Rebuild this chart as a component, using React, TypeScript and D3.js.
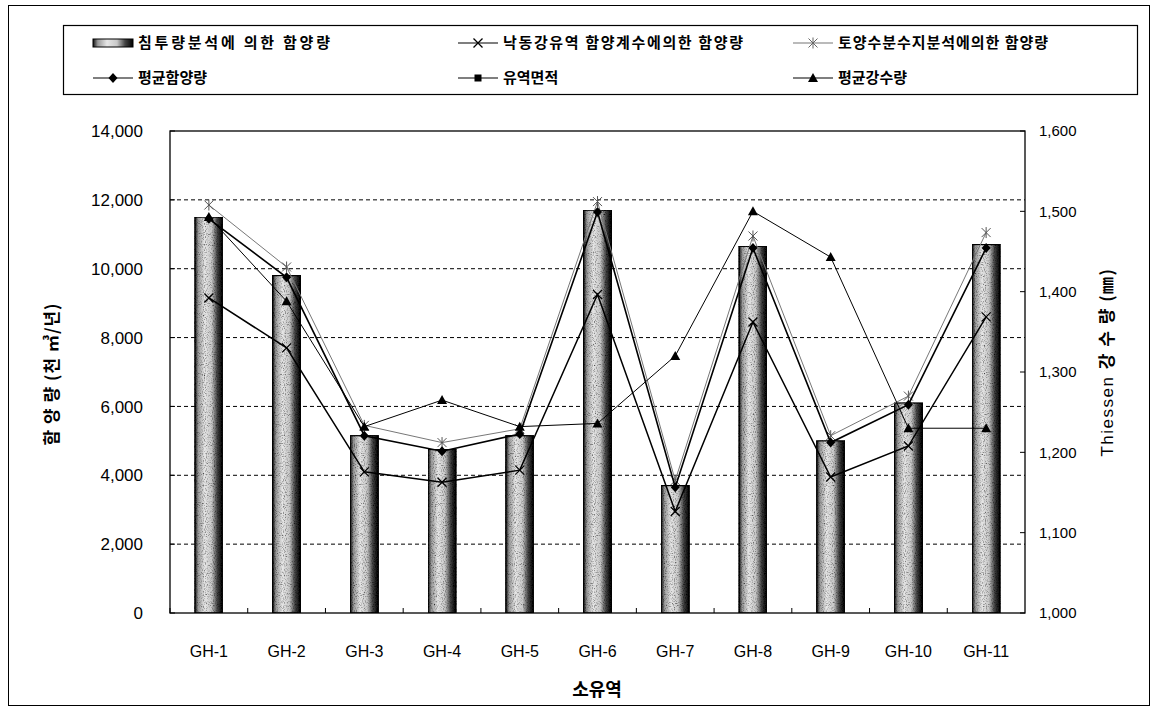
import React from "react";
import * as d3 from "d3";

const categories = ["GH-1", "GH-2", "GH-3", "GH-4", "GH-5", "GH-6", "GH-7", "GH-8", "GH-9", "GH-10", "GH-11"];
// 침투량분석에 의한 함양량 (bars, 천㎥/년)
const infiltration = [11500, 9800, 5150, 4750, 5150, 11700, 3700, 10650, 5000, 6100, 10700];
// 낙동강유역 함양계수에의한 함양량
const nakdong = [9150, 7700, 4100, 3800, 4150, 9250, 2950, 8450, 3950, 4850, 8600];
// 토양수분수지분석에의한 함양량
const soil = [11850, 10050, 5450, 4950, 5350, 11950, 3850, 10950, 5150, 6300, 11050];
// 평균함양량
const meanRecharge = [11450, 9750, 5150, 4700, 5200, 11650, 3650, 10600, 4950, 6050, 10600];
// 평균강수량 (right axis, mm)
const rainfall = [1493, 1388, 1232, 1265, 1232, 1236, 1320, 1500, 1443, 1230, 1230];

const leftTicks = [0, 2000, 4000, 6000, 8000, 10000, 12000, 14000];
const rightTicks = [1000, 1100, 1200, 1300, 1400, 1500, 1600];

const W = 1155;
const H = 711;
const P = { l: 170, r: 1025, t: 131, b: 613 };

const KFONT = "'Noto Sans CJK KR', 'Noto Sans', sans-serif";
const NFONT = "'Liberation Sans', Arial, sans-serif";

type MarkerType = "x" | "star" | "diamond" | "square" | "triangle";

function Marker({ type, x, y, color = "#000" }: { type: MarkerType; x: number; y: number; color?: string }) {
  const s = 4.5;
  if (type === "x")
    return (
      <path d={`M${x - s},${y - s}L${x + s},${y + s}M${x - s},${y + s}L${x + s},${y - s}`} stroke={color} strokeWidth={1.3} fill="none" />
    );
  if (type === "star")
    return (
      <path
        d={`M${x - s},${y - s}L${x + s},${y + s}M${x - s},${y + s}L${x + s},${y - s}M${x},${y - s - 1}L${x},${y + s + 1}`}
        stroke={color}
        strokeWidth={1}
        fill="none"
      />
    );
  if (type === "diamond")
    return <path d={`M${x},${y - 5}L${x + 4.5},${y}L${x},${y + 5}L${x - 4.5},${y}Z`} fill={color} />;
  if (type === "square") return <rect x={x - 3.5} y={y - 3.5} width={7} height={7} fill={color} />;
  return <path d={`M${x},${y - 5}L${x + 5},${y + 4}L${x - 5},${y + 4}Z`} fill={color} />;
}

export default function App() {
  const x = d3.scaleBand<string>().domain(categories).range([P.l, P.r]).padding(0);
  const yL = d3.scaleLinear().domain([0, 14000]).range([P.b, P.t]);
  const yR = d3.scaleLinear().domain([1000, 1600]).range([P.b, P.t]);
  const fmt = d3.format(",");
  const bw = x.bandwidth() * 0.36;
  const cx = (c: string) => (x(c) as number) + x.bandwidth() / 2;

  const lineL = d3
    .line<number>()
    .x((_, i) => cx(categories[i]))
    .y((d) => yL(d));
  const lineR = d3
    .line<number>()
    .x((_, i) => cx(categories[i]))
    .y((d) => yR(d));

  const series: { data: number[]; type: MarkerType; color: string; width: number; right?: boolean }[] = [
    { data: nakdong, type: "x", color: "#000", width: 1.5 },
    { data: soil, type: "star", color: "#777", width: 1 },
    { data: meanRecharge, type: "diamond", color: "#000", width: 1.6 },
    { data: rainfall, type: "triangle", color: "#000", width: 1, right: true },
  ];

  const legendItems: { label: string; type: MarkerType | "bar"; x: number; y: number; len?: number }[] = [
    { label: "침투량분석에 의한 함양량", type: "bar", x: 93, y: 43, len: 192 },
    { label: "낙동강유역 함양계수에의한 함양량", type: "x", x: 458, y: 43, len: 240 },
    { label: "토양수분수지분석에의한 함양량", type: "star", x: 793, y: 43, len: 210 },
    { label: "평균함양량", type: "diamond", x: 93, y: 78 },
    { label: "유역면적", type: "square", x: 458, y: 78 },
    { label: "평균강수량", type: "triangle", x: 793, y: 78 },
  ];

  return (
    <div style={{ position: "absolute", left: 0, top: 0 }}>
      <svg width={W} height={H} viewBox={`0 0 ${W} ${H}`} style={{ display: "block", background: "#fff" }}>
        <defs>
          <linearGradient id="barGrad" x1="0" x2="1" y1="0" y2="0">
            <stop offset="0" stopColor="#111" />
            <stop offset="0.12" stopColor="#999" />
            <stop offset="0.35" stopColor="#e6e6e6" />
            <stop offset="0.6" stopColor="#c8c8c8" />
            <stop offset="0.8" stopColor="#444" />
            <stop offset="1" stopColor="#000" />
          </linearGradient>
          <filter id="speckle" x="0" y="0" width="100%" height="100%">
            <feTurbulence type="fractalNoise" baseFrequency="0.9" numOctaves={1} seed={3} result="noise" />
            <feColorMatrix
              in="noise"
              type="matrix"
              values="0 0 0 0 0  0 0 0 0 0  0 0 0 0 0  2.6 0 0 0 -1.25"
              result="dots"
            />
            <feComposite in="dots" in2="SourceGraphic" operator="in" result="clipped" />
            <feMerge>
              <feMergeNode in="SourceGraphic" />
              <feMergeNode in="clipped" />
            </feMerge>
          </filter>
        </defs>

        {/* outer frame */}
        <rect x={8.5} y={5.5} width={1141} height={700} fill="none" stroke="#000" strokeWidth={1} />

        {/* legend */}
        <rect x={63.5} y={25.5} width={1074} height={69} fill="none" stroke="#000" strokeWidth={1.2} />
        {legendItems.map((it) => (
          <g key={it.label}>
            {it.type === "bar" ? (
              <rect x={it.x} y={it.y - 4} width={40} height={8} fill="url(#barGrad)" stroke="#000" strokeWidth={1} />
            ) : (
              <>
                <line x1={it.x} x2={it.x + 40} y1={it.y} y2={it.y} stroke={it.type === "star" ? "#777" : "#000"} strokeWidth={1.2} />
                <Marker type={it.type} x={it.x + 20} y={it.y} color={it.type === "star" ? "#666" : "#000"} />
              </>
            )}
            <text
              x={it.x + 45}
              y={it.y}
              dy="0.36em"
              fontFamily={KFONT}
              fontSize={15}
              fontWeight={700}
              textLength={it.len}
              lengthAdjust={it.len ? "spacing" : undefined}
            >
              {it.label}
            </text>
          </g>
        ))}

        {/* gridlines */}
        {leftTicks
          .filter((t) => t > 0 && t < 14000)
          .map((t) => (
            <line key={t} x1={P.l} x2={P.r} y1={yL(t)} y2={yL(t)} stroke="#000" strokeWidth={1} strokeDasharray="4,3" />
          ))}

        {/* bars */}
        {categories.map((c, i) => (
          <rect
            key={c}
            x={cx(c) - bw / 2}
            y={yL(infiltration[i])}
            width={bw}
            height={P.b - yL(infiltration[i])}
            fill="url(#barGrad)"
            stroke="#000"
            strokeWidth={1.2}
            filter="url(#speckle)"
          />
        ))}

        {/* plot frame */}
        <rect x={P.l} y={P.t} width={P.r - P.l} height={P.b - P.t} fill="none" stroke="#000" strokeWidth={1.3} />

        {/* x ticks */}
        {categories.map((c) => (
          <line key={c} x1={x(c) as number} x2={x(c) as number} y1={P.b} y2={P.b - 5} stroke="#000" strokeWidth={1} />
        ))}
        {/* y ticks */}
        {leftTicks.map((t) => (
          <line key={t} x1={P.l} x2={P.l + 5} y1={yL(t)} y2={yL(t)} stroke="#000" strokeWidth={1} />
        ))}
        {rightTicks.map((t) => (
          <line key={t} x1={P.r} x2={P.r - 5} y1={yR(t)} y2={yR(t)} stroke="#000" strokeWidth={1} />
        ))}

        {/* lines */}
        {series.map((s, k) => (
          <g key={k}>
            <path d={(s.right ? lineR : lineL)(s.data) || ""} fill="none" stroke={s.color} strokeWidth={s.width} />
            {s.data.map((v, i) => (
              <Marker key={i} type={s.type} x={cx(categories[i])} y={s.right ? yR(v) : yL(v)} color={s.type === "star" ? "#555" : s.color} />
            ))}
          </g>
        ))}

        {/* left tick labels */}
        {leftTicks.map((t) => (
          <text key={t} x={143} y={yL(t)} dy="0.36em" textAnchor="end" fontFamily={NFONT} fontSize={17}>
            {fmt(t)}
          </text>
        ))}
        {/* right tick labels */}
        {rightTicks.map((t) => (
          <text key={t} x={1039} y={yR(t)} dy="0.36em" textAnchor="start" fontFamily={NFONT} fontSize={15}>
            {fmt(t)}
          </text>
        ))}
        {/* x tick labels */}
        {categories.map((c) => (
          <text key={c} x={cx(c)} y={651} dy="0.36em" textAnchor="middle" fontFamily={NFONT} fontSize={16}>
            {c}
          </text>
        ))}

        {/* axis titles */}
        <text x={597} y={690} dy="0.36em" textAnchor="middle" fontFamily={KFONT} fontSize={18} fontWeight={700}>
          소유역
        </text>
        <text
          transform={`translate(52,374) rotate(-90)`}
          textAnchor="middle"
          dy="0.36em"
          fontFamily={KFONT}
          fontSize={17}
          fontWeight={700}
          letterSpacing={1}
        >
          함 양 량 (천 ㎥/년)
        </text>
        <text
          transform={`translate(1107,362) rotate(-90)`}
          textAnchor="middle"
          dy="0.36em"
          fontFamily={NFONT}
          fontSize={17}
          letterSpacing={1.5}
        >
          Thiessen{" "}
          <tspan fontFamily={KFONT} fontWeight={700}>
            강 수 량 (㎜)
          </tspan>
        </text>
      </svg>
    </div>
  );
}
